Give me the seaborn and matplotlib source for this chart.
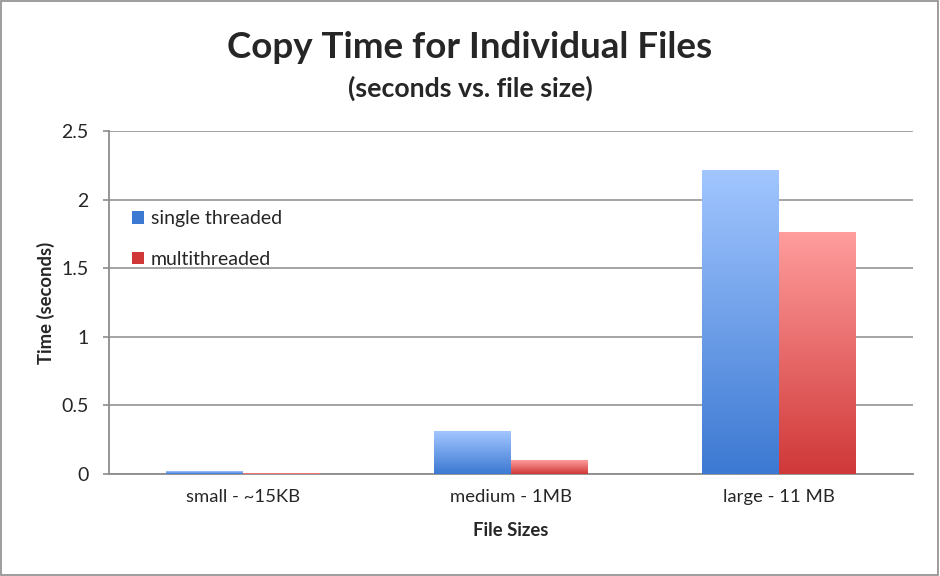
import numpy as np
import pandas as pd
import matplotlib
matplotlib.use("Agg")
import matplotlib.pyplot as plt
from matplotlib.colors import LinearSegmentedColormap
from matplotlib.patches import Patch
import seaborn as sns

# ── data ─────────────────────────────────────────────────────────────
kategoriler = ["small - ~15KB", "medium - 1MB", "large - 11 MB"]
serie_adlari = ["single threaded", "multithreaded"]
single_threaded = [0.02, 0.31, 2.21]
multithreaded = [0.004, 0.10, 1.76]

df = pd.DataFrame({
    "size": kategoriler * 2,
    "mode": [serie_adlari[0]] * 3 + [serie_adlari[1]] * 3,
    "time": single_threaded + multithreaded,
})

# top / bottom colours of the gradient for each series
renk = {
    "single threaded": ("#a2c6ff", "#3c79d2"),
    "multithreaded": ("#ff9d9d", "#d03838"),
}

sns.set_style("white")
plt.rcParams["font.family"] = ["Lato", "DejaVu Sans"]

fig = plt.figure(figsize=(9.4, 5.76), dpi=100)
ax = fig.add_axes([109 / 940, 1 - 474 / 576, 804 / 940, 343 / 576])

sns.barplot(data=df, x="size", y="time", hue="mode", order=kategoriler,
            hue_order=serie_adlari, width=0.573, ax=ax, legend=False,
            palette=[renk[s][1] for s in serie_adlari], saturation=1)

# gradient fill for each bar
for cont, s in zip(ax.containers, serie_adlari):
    cmap = LinearSegmentedColormap.from_list(s, [renk[s][1], renk[s][0]])
    for bar in cont:
        x0, y0 = bar.get_x(), bar.get_y()
        w, h = bar.get_width(), bar.get_height()
        if h <= 0:
            continue
        grad = np.linspace(0, 1, 256).reshape(-1, 1)
        ax.imshow(grad, extent=[x0, x0 + w, y0, y0 + h], origin="lower",
                  cmap=cmap, aspect="auto", zorder=3)
        bar.set_visible(False)

ax.set_xlim(-0.5, 2.5)
ax.set_ylim(0, 2.5)
ax.set_yticks(np.arange(0, 2.51, 0.5))
ax.set_yticklabels(["0", "0.5", "1", "1.5", "2", "2.5"])
ax.yaxis.grid(True, color="#8c8c8c", lw=1.1)
ax.set_axisbelow(True)

for sp in ["top", "right"]:
    ax.spines[sp].set_visible(False)
for sp in ["left", "bottom"]:
    ax.spines[sp].set_color("#8c8c8c")
    ax.spines[sp].set_linewidth(1.3)

# category separator ticks on x axis
ax.set_xticks([-0.5, 0.5, 1.5, 2.5], minor=True)
ax.tick_params(axis="x", which="minor", length=5, color="#8c8c8c", width=1.2)
ax.tick_params(axis="x", which="major", length=0, labelsize=13.3, pad=11)
ax.tick_params(axis="y", length=4.5, color="#8c8c8c", width=1.2,
               labelsize=14, pad=10, left=True)

ax.set_xlabel("File Sizes", fontsize=13.3, fontweight="bold", labelpad=12)
ax.set_ylabel("Time (seconds)", fontsize=13.3, fontweight="bold", labelpad=5)

fig.text(0.5, 1 - 47 / 576, "Copy Time for Individual Files",
         ha="center", va="center", fontsize=26.5, fontweight="bold")
fig.text(0.5, 1 - 88 / 576, "(seconds vs. file size)",
         ha="center", va="center", fontsize=19.3, fontweight="bold")

handles = [Patch(facecolor=renk[s][1], edgecolor="none") for s in serie_adlari]
ax.legend(handles, serie_adlari, loc="upper left",
          bbox_to_anchor=(0.007, 0.82), frameon=False, fontsize=14,
          handlelength=0.6, handleheight=0.6, handletextpad=0.35,
          labelspacing=1.2)

# outer frame
fig.patches.append(plt.Rectangle((0.001, 0.001), 0.997, 0.997,
                                 transform=fig.transFigure, fill=False,
                                 edgecolor="#8c8c8c", lw=1.2))

plt.savefig("out.png", dpi=100)
plt.close()
